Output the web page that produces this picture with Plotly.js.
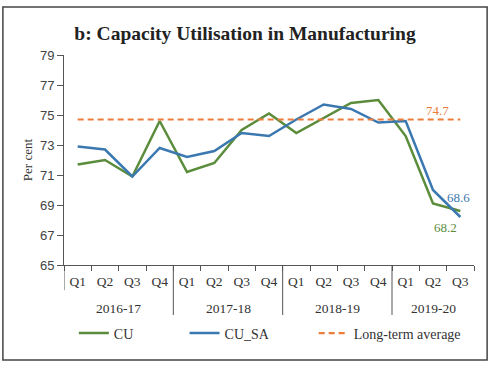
<!DOCTYPE html>
<html><head><meta charset="utf-8">
<script src="https://cdn.plot.ly/plotly-3.0.1.min.js"></script>
<style>html,body{margin:0;padding:0;background:#fff}#chart{width:490px;height:382px}</style>
</head><body><div id="chart"></div>
<script>
const years = ["2016-17","2017-18","2018-19","2019-20"];
const quarters = ["Q1","Q2","Q3","Q4","Q1","Q2","Q3","Q4","Q1","Q2","Q3","Q4","Q1","Q2","Q3"];
const yearOfPoint = ["2016-17","2016-17","2016-17","2016-17","2017-18","2017-18","2017-18","2017-18","2018-19","2018-19","2018-19","2018-19","2019-20","2019-20","2019-20"];
const cu    = [71.7, 72.0, 70.9, 74.6, 71.2, 71.8, 74.0, 75.1, 73.8, 74.8, 75.8, 76.0, 73.6, 69.1, 68.6];
const cuSA  = [72.9, 72.7, 70.9, 72.8, 72.2, 72.6, 73.8, 73.6, 74.7, 75.7, 75.4, 74.5, 74.6, 70.0, 68.2];
const longTermAvg = 74.7;
const endLabels = ["68.6", "68.2"];

const cats = quarters.map((q,i)=> yearOfPoint[i] + " " + q);
const serif = "Liberation Serif";
const green = "#5b8c3c", blue = "#3b78b0", orange = "#ec7d3a";

const traces = [
  {x: cats, y: cu, name: "CU", type: "scatter", mode: "lines", line: {color: green, width: 2.5}, legend: "legend"},
  {x: cats, y: cuSA, name: "CU_SA", type: "scatter", mode: "lines", line: {color: blue, width: 2.5}, legend: "legend2"},
  {x: cats, y: cats.map(()=>longTermAvg), name: "Long-term average", type: "scatter", mode: "lines", line: {color: orange, width: 2.2, dash: "6px,4px"}, legend: "legend3"}
];

const shapes = [];
const annotations = [];
let start = 0;
years.forEach((yr, gi) => {
  const n = yearOfPoint.filter(v => v === yr).length;
  const mid = start + (n - 1) / 2;
  annotations.push({x: mid, xref: "x", y: -0.205, yref: "paper", text: yr, showarrow: false,
    font: {family: serif, size: 13.5, color: "#333"}, yanchor: "middle"});
  const b = start - 0.5;
  shapes.push({type: "line", xref: "x", yref: "paper", x0: b, x1: b, y0: 0,
    y1: gi === 0 ? -0.12 : -0.238, line: {color: "#555", width: 1}});
  start += n;
});
shapes.push({type: "rect", xref: "paper", yref: "paper", x0: -0.149, x1: 1.032, y0: -0.452, y1: 1.229,
  line: {color: "#444", width: 1.5}});

const last = cats.length - 1;
annotations.push({x: last - 0.84, xref: "x", y: longTermAvg + 0.6, yref: "y", text: longTermAvg.toFixed(1),
  showarrow: false, font: {family: serif, size: 13, color: orange}});
annotations.push({x: last - 0.08, xref: "x", y: 69.47, yref: "y", text: endLabels[0],
  showarrow: false, font: {family: serif, size: 13, color: blue}});
annotations.push({x: last - 0.56, xref: "x", y: 67.53, yref: "y", text: endLabels[1],
  showarrow: false, font: {family: serif, size: 13, color: green}});

const legFont = {family: serif, size: 14, color: "#333"};
const legY = -0.25;
const layout = {
  width: 490, height: 382,
  margin: {l: 64, r: 16, t: 55, b: 117},
  paper_bgcolor: "#fff", plot_bgcolor: "#fff",
  title: {text: "<b>b: Capacity Utilisation in Manufacturing</b>", x: 0.5, xanchor: "center",
    y: 1 - 33/382, yref: "container", yanchor: "middle",
    font: {family: serif, size: 19.5, color: "#222"}},
  xaxis: {type: "category", tickvals: cats, ticktext: quarters, tickson: "boundaries",
    ticks: "outside", ticklen: 5, tickcolor: "#555", showline: true, linecolor: "#555", linewidth: 1,
    showgrid: false, zeroline: false, range: [-0.5, cats.length - 0.5], ticklabelstandoff: 4,
    tickfont: {family: serif, size: 13.5, color: "#333"}, fixedrange: true},
  yaxis: {range: [65, 79], dtick: 2, tick0: 65, ticks: "outside", ticklen: 6, tickcolor: "#555",
    showline: true, linecolor: "#555", linewidth: 1, showgrid: false, zeroline: false,
    tickfont: {family: "Liberation Sans", size: 13, color: "#444"},
    title: {text: "Per cent", font: {family: serif, size: 13, color: "#333"}, standoff: 4}},
  showlegend: true,
  legend:  {orientation: "h", x: 0.024, xanchor: "left", y: legY, yanchor: "top", font: legFont, bgcolor: "rgba(0,0,0,0)"},
  legend2: {orientation: "h", x: 0.294, xanchor: "left", y: legY, yanchor: "top", font: legFont, bgcolor: "rgba(0,0,0,0)"},
  legend3: {orientation: "h", x: 0.609, xanchor: "left", y: legY, yanchor: "top", font: legFont, bgcolor: "rgba(0,0,0,0)"},
  shapes: shapes,
  annotations: annotations
};
Plotly.newPlot("chart", traces, layout, {displayModeBar: false, staticPlot: true});
</script></body></html>
